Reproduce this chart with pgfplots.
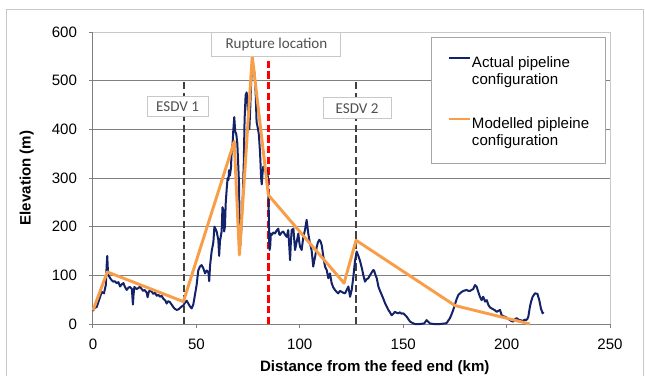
\documentclass[border=0pt]{standalone}
\usepackage{pgfplots}
\pgfplotsset{compat=1.18}
\usepackage{fontspec}
\setmainfont{Liberation Sans}
\newfontfamily\calibri{Carlito}

\definecolor{actualblue}{RGB}{20,35,105}
\definecolor{modelorange}{RGB}{248,158,72}
\definecolor{gridgray}{RGB}{128,128,128}
\definecolor{framegray}{RGB}{200,200,200}
\definecolor{notegray}{RGB}{80,80,80}

\newcommand{\chartfont}{\fontsize{11.3}{12.75}\selectfont}

\begin{document}
\begin{tikzpicture}
% page extent and outer chart frame (axis origin sits at (0,0))
\path (-69.75pt,-39pt) rectangle (414pt,243pt);
\draw[framegray, line width=0.75pt] (-64.5pt,-39pt) -- (-64.5pt,235.5pt) -- (412.5pt,235.5pt) -- (412.5pt,-39pt);

\begin{axis}[
  at={(0pt,0pt)}, anchor=south west,
  scale only axis, width=387.75pt, height=219pt,
  xmin=0, xmax=250, ymin=0, ymax=600,
  xtick={0,50,...,250}, ytick={0,100,...,500},
  extra y ticks={600},
  extra y tick style={major grid style={framegray, line width=0.75pt}},
  ymajorgrids, major grid style={gridgray, line width=0.75pt},
  axis lines*=left,
  axis line style={gridgray, line width=0.75pt},
  tick style={gridgray, line width=0.75pt},
  tick align=outside, major tick length=3pt,
  font=\chartfont,
  /pgf/number format/assume math mode=true,
  yticklabel style={xshift=-5.5pt},
  xticklabel style={yshift=-4.5pt},
  xlabel={\bfseries Distance from the feed end (km)},
  ylabel={\bfseries Elevation (m)},
  xlabel style={at={(rel axis cs:0.545,-0.148)}, anchor=center},
  ylabel style={at={(rel axis cs:-0.128,0.5)}, anchor=center},
  clip=false,
  legend style={
    at={(rel axis cs:0.654,0.983)}, anchor=north west,
    draw=none, fill=none,
    font=\chartfont,
    inner xsep=12pt, inner ysep=12pt,
    row sep=31pt, column sep=0pt,
    cells={anchor=west},
    nodes={inner xsep=0.5pt},
  },
  legend image code/.code={\draw[#1] (0pt,0.33em) -- (15.75pt,0.33em);},
]

% plot-area border on top and right
\draw[framegray, line width=0.75pt] (rel axis cs:0,1) -- (rel axis cs:1,1) -- (rel axis cs:1,0);
% legend panel
\draw[gridgray!70, fill=white, line width=0.6pt] (rel axis cs:0.654,0.983) rectangle (rel axis cs:0.992,0.551);

% emergency shutdown valves and rupture point
\addplot[forget plot, color=black!75, line width=1.2pt, dash pattern=on 5.5pt off 2.5pt]
  coordinates {(44,0) (44,500)};
\addplot[forget plot, color=black!75, line width=1.2pt, dash pattern=on 5.5pt off 2.5pt]
  coordinates {(127.2,0) (127.2,500)};
\addplot[forget plot, color=red, line width=1.7pt, dash pattern=on 5.5pt off 2.5pt]
  coordinates {(84.8,0) (84.8,600)};

% surveyed elevation profile
\addplot[color=actualblue, line width=1.5pt, line join=round] table {
0.0 27
0.8 33
1.8 35
3.0 50
4.2 66
5.3 63
6.2 80
6.6 120
6.9 140
7.2 110
7.5 100
8.2 95
9.0 90
9.8 87
10.5 88
11.5 84
12.3 86
13.1 77
14.0 82
14.7 84
15.5 76
16.3 70
17.2 75
17.9 76
18.8 72
19.3 40
19.6 60
20.0 76
21.1 72
22.0 74
22.7 77
23.5 72
24.3 68
25.0 70
26.0 64
26.4 55
27.0 66
27.6 70
28.4 66
29.2 62
30.0 64
30.8 58
31.6 60
32.4 56
33.2 58
34.0 52
35.0 48
35.6 42
36.4 47
37.2 45
38.0 40
38.8 35
39.6 31
40.5 29
41.3 30
42.1 33
42.9 36
43.7 38
44.5 44
45.3 48
46.1 42
46.9 36
47.7 32
48.5 40
49.3 60
50.1 80
50.9 110
51.7 118
52.5 121
53.3 115
54.2 104
55.0 110
55.8 106
56.2 88
56.6 120
57.4 150
58.2 168
58.7 200
59.3 195
59.8 190
60.6 173
61.0 140
61.4 170
62.2 190
62.6 240
63.0 235
63.4 190
63.8 200
64.2 250
64.7 280
65.1 300
65.5 296
65.8 316
66.2 305
66.7 320
67.0 350
67.5 370
67.8 395
68.3 425
68.8 395
69.3 390
69.8 370
70.2 330
70.6 290
70.9 200
71.2 160
71.8 200
72.4 260
72.9 330
73.3 420
73.8 470
74.3 476
74.8 450
75.2 410
75.6 400
76.0 440
76.5 500
77.0 530
77.6 530
78.2 510
78.7 470
79.1 415
79.6 405
80.2 390
80.8 350
81.3 300
81.6 287
82.0 310
82.3 323
83.0 315
83.6 318
84.2 315
84.6 300
84.8 268
85.0 230
85.2 170
85.4 152
85.7 160
86.0 186
86.4 183
87.2 188
88.0 186
88.8 192
89.6 196
90.0 185
90.4 183
91.2 188
92.0 190
92.8 184
93.7 179
94.4 193
94.9 160
95.3 131
95.7 170
96.1 193
96.9 196
97.7 152
98.5 169
99.3 186
99.7 170
100.1 159
100.9 152
101.7 179
102.5 193
103.3 214
103.7 200
104.1 186
104.9 166
105.7 152
106.5 118
107.0 130
107.4 138
108.2 159
108.8 168
109.4 173
110.0 170
110.6 162
111.4 138
112.2 118
113.0 111
113.8 94
114.6 104
115.4 84
116.2 75
117.0 70
117.8 66
118.6 63
119.4 68
120.3 66
121.1 64
121.9 63
122.7 70
123.5 77
124.3 56
125.1 70
125.9 97
126.7 130
127.5 149
128.3 140
129.1 130
130.0 115
130.7 101
131.5 87
132.3 92
133.1 94
133.9 100
134.8 106
135.5 111
135.9 110
136.5 102
137.2 94
138.0 77
138.8 68
139.6 60
140.4 52
141.2 43
142.0 36
142.8 29
143.6 24
144.4 18
145.2 21
146.0 25
146.8 23
147.6 22
148.4 24
149.2 21
150.0 22
150.8 19
151.7 15
152.5 10
153.3 5
154.5 2
155.7 0
158.0 0
160.0 1
160.5 3
161.3 8
162.0 5
163.0 1
165.0 0
167.8 0
170.0 1
171.0 2
172.6 12
173.4 20
174.2 29
175.0 40
175.9 52
176.7 60
177.5 63
178.3 66
179.1 68
180.7 70
181.5 68
182.3 68
183.1 70
183.9 72
184.7 80
185.5 77
186.3 66
187.1 56
187.9 49
188.7 56
189.6 46
190.4 49
191.2 39
192.0 34
193.6 30
194.4 28
195.2 25
196.0 27
196.8 29
197.6 18
198.4 16
199.2 15
200.4 12
201.6 8
202.4 6
203.2 5
204.1 10
204.9 12
205.7 9
206.5 8
207.3 7
208.1 7
208.8 9
209.4 8
210.0 10
210.5 15
211.3 36
212.0 48
212.6 56
213.7 63
214.9 62
215.8 49
216.6 32
217.4 22
217.8 25
};
\addlegendentry{\begin{tabular}[t]{@{}l@{}}Actual pipeline\\configuration\end{tabular}}

% simplified model geometry
\addplot[color=modelorange, line width=2.2pt, line join=round] table {
0.0 28
6.9 107
43.7 46
68.3 375
70.8 142
77.0 550
84.8 265
121.4 84
127.2 172
175.0 38
211.3 0
};
\addlegendentry{\begin{tabular}[t]{@{}l@{}}Modelled pipleine\\configuration\end{tabular}}

% annotation labels
\tikzset{note/.style={draw=framegray, fill=white, line width=0.75pt, inner sep=0pt,
  font=\calibri\fontsize{11.3}{12}\selectfont, text=notegray}}
\node[note, minimum width=96.75pt, minimum height=18pt] at (axis cs:88.7,575) {Rupture location};
\node[note, minimum width=45.75pt, minimum height=15pt] at (axis cs:40.9,446) {ESDV 1};
\node[note, minimum width=51pt, minimum height=15.75pt] at (axis cs:127.7,443) {ESDV 2};
\end{axis}
\end{tikzpicture}
\end{document}
